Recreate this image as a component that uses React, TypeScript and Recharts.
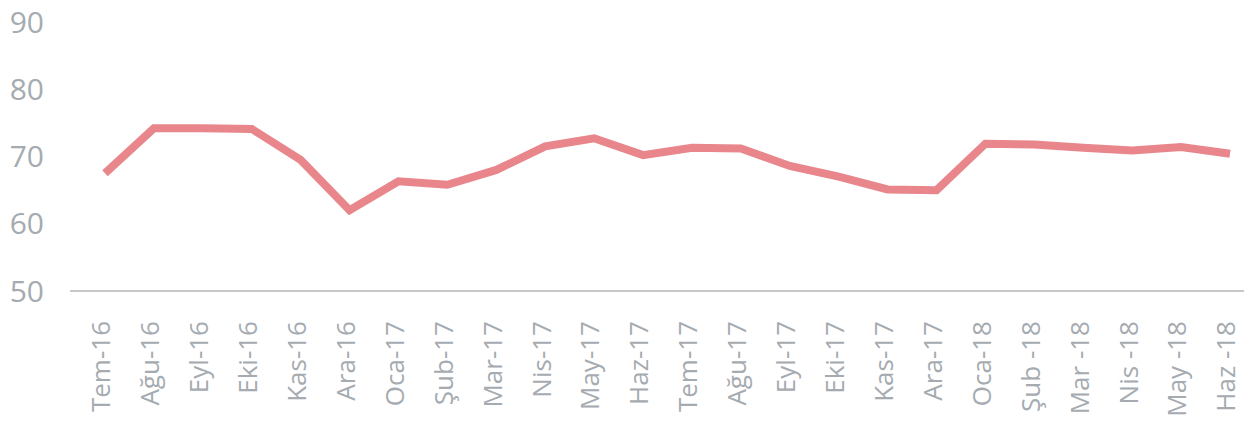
import React from 'react';
import { LineChart, Line, XAxis, YAxis } from 'recharts';

const months = [
  'Tem-16', 'Ağu-16', 'Eyl-16', 'Eki-16', 'Kas-16', 'Ara-16',
  'Oca-17', 'Şub-17', 'Mar-17', 'Nis-17', 'May-17', 'Haz-17',
  'Tem-17', 'Ağu-17', 'Eyl-17', 'Eki-17', 'Kas-17', 'Ara-17',
  'Oca-18', 'Şub -18', 'Mar -18', 'Nis -18', 'May -18', 'Haz -18',
];

const values = [
  67.5, 74.2, 74.2, 74.1, 69.5, 62.0,
  66.3, 65.8, 68.0, 71.5, 72.7, 70.2,
  71.3, 71.2, 68.6, 67.0, 65.1, 65.0,
  71.9, 71.8, 71.3, 70.9, 71.4, 70.4,
];

const yTicks = [50, 60, 70, 80, 90];

const data = months.map((m, i) => ({ month: m, value: values[i] }));

const FONT = '"Open Sans", "Liberation Sans", sans-serif';
const TICK_COLOR = '#a5abb0';

const XTick = (props: any) => {
  const { x, y, payload } = props;
  const ty = y + 22;
  const tx = x - 4;
  return (
    <text
      x={tx}
      y={ty}
      transform={`rotate(-90, ${tx}, ${ty})`}
      textAnchor="end"
      dy="0.36em"
      fontSize={26}
      fontFamily={FONT}
      fill={TICK_COLOR}
    >
      {payload.value}
    </text>
  );
};

export default function App() {
  return (
    <div style={{ position: 'absolute', left: 0, top: 0, background: '#fff' }}>
      <LineChart
        width={1248}
        height={427}
        data={data}
        margin={{ top: 22, right: 4, left: 0, bottom: 0 }}
      >
        <XAxis
          dataKey="month"
          interval={0}
          height={136}
          padding={{ left: 35, right: 14 }}
          tickLine={false}
          axisLine={{ stroke: '#c8c8c8', strokeWidth: 2 }}
          tick={<XTick />}
        />
        <YAxis
          domain={[50, 90]}
          ticks={yTicks}
          width={70}
          axisLine={false}
          tickLine={false}
          tickMargin={20}
          tick={{ fontSize: 30, fontFamily: FONT, fill: TICK_COLOR }}
        />
        <Line
          type="linear"
          dataKey="value"
          stroke="#e8868c"
          strokeWidth={8}
          dot={false}
          isAnimationActive={false}
        />
      </LineChart>
    </div>
  );
}
